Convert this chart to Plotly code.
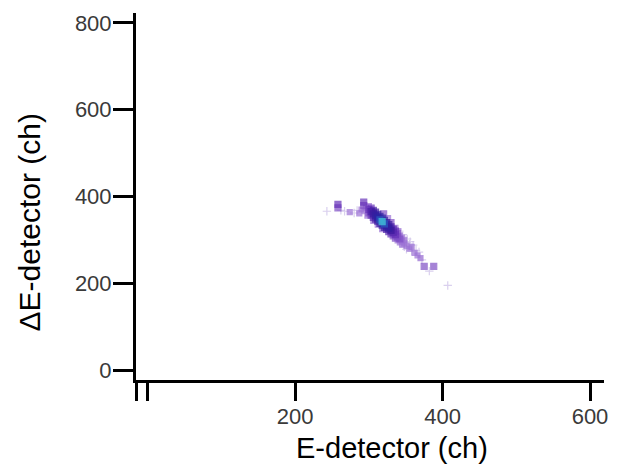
import plotly.graph_objects as go

# E-detector channel, dE-detector channel, counts per cell
e_ch = [243, 258, 258, 262, 267, 274, 280, 287, 293, 293, 284, 290, 296, 294,
        300, 300, 300, 303, 303, 303, 306, 306, 306, 309, 309, 309,
        312, 312, 312, 315, 315, 315, 318, 318, 318, 321, 321, 321,
        324, 324, 324, 327, 327, 327, 330, 330, 330, 333, 333, 333,
        336, 336, 336, 339, 339, 339, 342, 342, 342, 345, 345, 345,
        348, 348, 348, 351, 351, 351, 355, 355, 358, 358, 362, 364,
        366, 368, 370, 372, 375, 388, 382, 407,
        298, 306, 312, 330, 336, 340, 346, 352, 320, 326, 318, 360, 356]
de_ch = [366, 382, 374, 368, 366, 364, 362, 361, 387, 379, 368, 370, 374, 366,
         378, 370, 362, 373, 365, 357, 368, 360, 352, 364, 356, 348,
         359, 351, 343, 354, 346, 338, 350, 342, 334, 345, 337, 329,
         340, 332, 324, 335, 327, 319, 330, 322, 314, 325, 317, 309,
         320, 312, 304, 315, 307, 299, 310, 302, 294, 305, 297, 289,
         300, 292, 284, 294, 286, 278, 290, 280, 284, 274, 270, 276,
         264, 272, 258, 254, 239, 239, 228, 195,
         356, 344, 335, 340, 328, 320, 312, 302, 360, 350, 325, 288, 296]
counts = [1, 4, 3, 1, 1, 2, 1, 2, 4, 3, 1, 2, 2, 2,
          2, 4, 3, 4, 6, 4, 6, 8, 5, 7, 9, 6,
          9, 11, 7, 10, 13, 8, 11, 16, 9, 10, 13, 8,
          9, 10, 6, 8, 9, 5, 6, 7, 4, 5, 5, 3,
          4, 4, 3, 3, 3, 2, 2, 3, 2, 2, 2, 2,
          2, 2, 1, 1, 2, 1, 1, 2, 2, 1, 2, 1,
          2, 1, 2, 1, 3, 3, 1, 1,
          2, 2, 2, 3, 2, 2, 1, 1, 3, 2, 2, 1, 1]

x_ticks = [-15.5, 0, 200, 400, 600]
x_ticktext = ["", "", "200", "400", "600"]
y_ticks = [0, 200, 400, 600, 800]
y_ticktext = ["0", "200", "400", "600", "800"]

cscale = [[0.0, "#cbbde8"], [0.07, "#9a6ed4"], [0.2, "#6530b8"], [0.4, "#3c1a9e"],
          [0.67, "#2c24a4"], [0.8, "#2a5cc0"], [1.0, "#44d0dc"]]

# draw low counts first so dense cells sit on top
order = sorted(range(len(counts)), key=lambda i: counts[i])
xs = [e_ch[i] for i in order]
ys = [de_ch[i] for i in order]
cs = [counts[i] for i in order]
symbols = ["cross-thin" if c <= 1 else "square" for c in cs]
sizes = [6 if c <= 1 else (5 if c <= 2 else 6) for c in cs]

fig = go.Figure()
fig.add_trace(go.Scatter(
    x=xs, y=ys, mode="markers",
    marker=dict(
        symbol=symbols, size=sizes,
        color=cs, colorscale=cscale, cmin=1, cmax=16,
        line=dict(width=1.2, color=cs, colorscale=cscale, cmin=1, cmax=16),
    ),
    showlegend=False, hoverinfo="skip",
))

font = "Liberation Sans, Arial, sans-serif"
fig.update_layout(
    width=637, height=469,
    margin=dict(l=136, r=33, t=13, b=89),
    paper_bgcolor="white", plot_bgcolor="white",
    font=dict(family=font, color="black"),
    xaxis=dict(range=[-16, 619], showline=True, linewidth=3, linecolor="black",
               ticks="outside", ticklen=18, tickwidth=3, tickcolor="black",
               tickvals=x_ticks, ticktext=x_ticktext, showgrid=False, zeroline=False,
               ticklabelstandoff=-3,
               tickfont=dict(size=22, color="#3a3a3a", family=font)),
    yaxis=dict(range=[-23, 823], showline=True, linewidth=3, linecolor="black",
               ticks="outside", ticklen=20, tickwidth=3, tickcolor="black",
               tickvals=y_ticks, ticktext=y_ticktext, showgrid=False, zeroline=False,
               ticklabelstandoff=-3,
               tickfont=dict(size=22, color="#3a3a3a", family=font)),
    annotations=[
        dict(text="E-detector (ch)", xref="x", x=331, yref="paper", y=-0.186,
             xanchor="center", yanchor="middle", showarrow=False,
             font=dict(size=29, color="black", family=font)),
        dict(text="ΔE-detector (ch)", xref="paper", x=-0.2265, yref="y", y=340,
             xanchor="center", yanchor="middle", textangle=-90, showarrow=False,
             font=dict(size=30, color="black", family=font)),
    ],
)

fig.write_html("out.html")
